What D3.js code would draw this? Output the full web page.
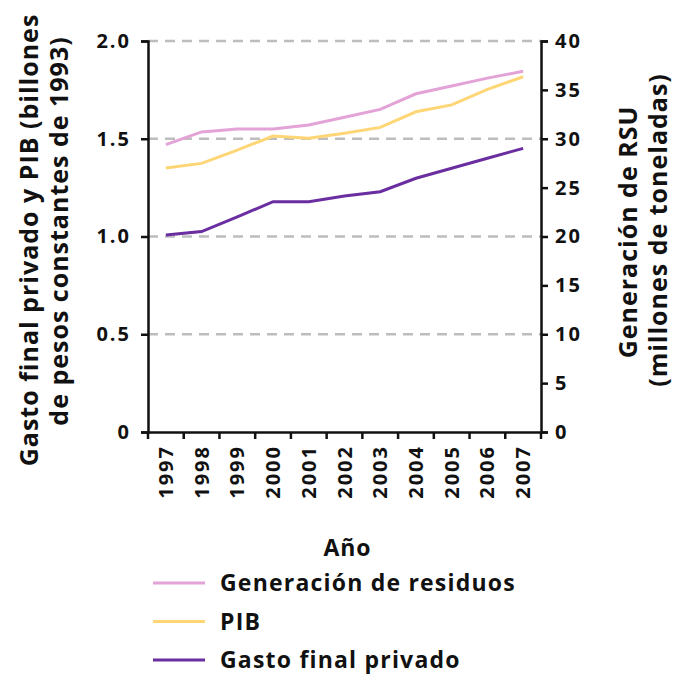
<!DOCTYPE html>
<html><head><meta charset="utf-8">
<script src="https://cdn.jsdelivr.net/npm/d3@7"></script>
<style>
body{margin:0;background:#fff;}
text{font-family:"Open Sans","Lato",sans-serif;font-weight:700;fill:#111;}
</style></head>
<body><svg id="c" width="675" height="675"></svg>
<script>
const years = ["1997","1998","1999","2000","2001","2002","2003","2004","2005","2006","2007"];
const residuos = [29.4,30.7,31.0,31.0,31.4,32.2,33.0,34.6,35.4,36.2,36.9];
const pib = [1.35,1.374,1.442,1.514,1.502,1.528,1.558,1.638,1.673,1.753,1.817];
const gasto = [1.008,1.025,1.10,1.178,1.178,1.207,1.229,1.298,1.349,1.40,1.451];
const leftTicks = [0,0.5,1.0,1.5,2.0];
const leftTickLabels = ["0","0.5","1.0","1.5","2.0"];
const rightTicks = [0,5,10,15,20,25,30,35,40];
const legendItems = ["Generación de residuos","PIB","Gasto final privado"];
const colors = ["#e3a3d6","#fed676","#6a2ea0"];

const svg = d3.select("#c");
const L=148, R=541, T=41, B=432;
const x = d3.scaleBand().domain(years).range([L,R]);
const yL = d3.scaleLinear().domain([0,2]).range([B,T]);
const yR = d3.scaleLinear().domain([0,40]).range([B,T]);

// grid
svg.append("g").selectAll("line").data(leftTicks.filter(d=>d>0)).join("line")
  .attr("x1",L).attr("x2",R).attr("y1",d=>yL(d)).attr("y2",d=>yL(d))
  .attr("stroke","#bdbdbd").attr("stroke-width",2.5).attr("stroke-dasharray","10,7");

// axes
const axL = svg.append("g").attr("transform",`translate(${L},0)`)
  .call(d3.axisLeft(yL).tickValues(leftTicks).tickFormat((d,i)=>leftTickLabels[i]).tickSize(7).tickPadding(10));
const axR = svg.append("g").attr("transform",`translate(${R},0)`)
  .call(d3.axisRight(yR).tickValues(rightTicks).tickSize(7).tickPadding(7));
const axX = svg.append("g").attr("transform",`translate(0,${B})`)
  .call(d3.axisBottom(x).tickSize(7).tickSizeOuter(0));
[axL,axR,axX].forEach(a=>{
  a.attr("font-family",null).attr("font-size",null);
  a.selectAll(".domain").attr("stroke","#111").attr("stroke-width",2.5);
  a.selectAll(".tick line").attr("stroke","#111").attr("stroke-width",2.5);
  a.selectAll("text").style("font-size","20px").style("letter-spacing","2px").attr("fill","#111");
});
// x ticks at band edges
axX.selectAll(".tick line").attr("x1",-x.bandwidth()/2).attr("x2",-x.bandwidth()/2);
axX.append("line").attr("x1",R).attr("x2",R).attr("y1",0).attr("y2",7).attr("stroke","#111").attr("stroke-width",2.5);
axX.selectAll(".tick text").attr("transform","rotate(-90)").attr("x",-13).attr("y",0).attr("dy","0.35em").attr("text-anchor","end");

// lines
const lineL = d3.line().x((d,i)=>x(years[i])+x.bandwidth()/2).y(d=>yL(d));
const lineR = d3.line().x((d,i)=>x(years[i])+x.bandwidth()/2).y(d=>yR(d));
svg.append("path").attr("d",lineR(residuos)).attr("fill","none").attr("stroke",colors[0]).attr("stroke-width",3);
svg.append("path").attr("d",lineL(pib)).attr("fill","none").attr("stroke",colors[1]).attr("stroke-width",3);
svg.append("path").attr("d",lineL(gasto)).attr("fill","none").attr("stroke",colors[2]).attr("stroke-width",3);

// axis titles
function title(tx, cy, txt){
  svg.append("text").attr("transform",`translate(${tx},${cy}) rotate(-90)`).attr("text-anchor","middle")
    .style("font-size","25px").style("letter-spacing","1px").text(txt);
}
title(38,240,"Gasto final privado y PIB (billones");
title(68,231,"de pesos constantes de 1993)");
title(637,232,"Generación de RSU");
title(667,230,"(millones de toneladas)");
svg.append("text").attr("x",(L+R)/2+3).attr("y",556).attr("text-anchor","middle").style("font-size","23px").style("letter-spacing","1px").text("Año");

// legend
const lg = svg.append("g").selectAll("g").data(legendItems).join("g")
  .attr("transform",(d,i)=>`translate(0,${583+i*38.5})`);
lg.append("line").attr("x1",153).attr("x2",205).attr("stroke",(d,i)=>colors[i]).attr("stroke-width",3);
lg.append("text").attr("x",220).attr("dy","0.35em").style("font-size","23px").style("letter-spacing","1.2px").text(d=>d);
</script></body></html>
